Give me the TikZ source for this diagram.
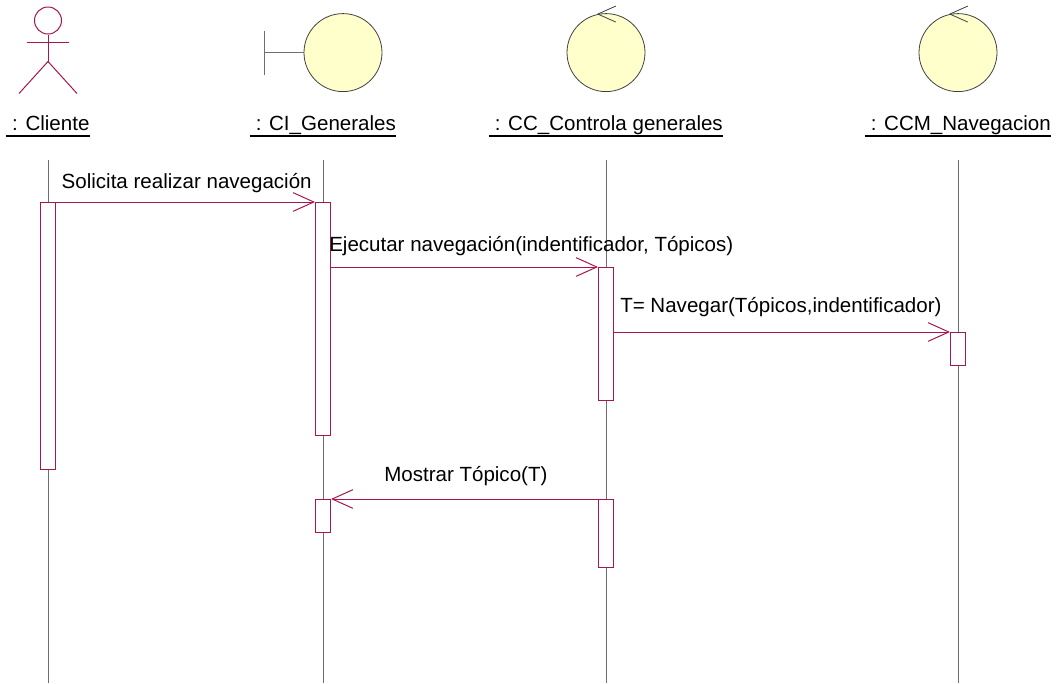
\documentclass[tikz,border=0pt]{standalone}
\usepackage{fontspec}
\setmainfont{Liberation Sans}
\usepackage{xcolor}
\usetikzlibrary{positioning}
\usetikzlibrary{arrows.meta}
\definecolor{umlline}{HTML}{A5174F}
\definecolor{umlfill}{HTML}{FFFFCC}
\definecolor{umlgray}{HTML}{6E6E6E}

\begin{document}
\begin{tikzpicture}[node distance=1cm,on grid,
      every node/.style={font=\fontsize{15.4pt}{18pt}\selectfont},
      >={Straight Barb[length=15.5pt,width=14pt]},
      life/.style={umlgray, line width=0.6pt},
      bar/.style={draw=umlline, fill=white, line width=0.75pt, minimum width=11.25pt, minimum height=#1, inner sep=0pt},
      msg/.style={draw=umlline, line width=0.75pt},
      send/.style={umlline, line width=0.75pt, ->},
      icon/.style={draw=black!75, fill=umlfill, circle, line width=0.6pt, minimum size=58.5pt, inner sep=0pt},
      title/.style={inner xsep=0pt, inner ysep=0pt, text height=12pt, text depth=3.75pt},
      tag/.style={inner sep=0pt}]

      \useasboundingbox (0,0) rectangle (792.75pt,-512.25pt);

      % lifelines
      \coordinate (life0) at (36pt,-120pt);
      \coordinate[right=206.25pt of life0] (life1);
      \coordinate[right=212.25pt of life1] (life2);
      \coordinate[right=264pt of life2] (life3);
      \coordinate[below=392pt of life0] (end0);
      \coordinate[below=392pt of life1] (end1);
      \coordinate[below=392pt of life2] (end2);
      \coordinate[below=392pt of life3] (end3);

      \draw[life] (life0) -- (end0);
      \draw[life] (life1) -- (end1);
      \draw[life] (life2) -- (end2);
      \draw[life] (life3) -- (end3);

      % titles
      \node[title] (name0) [above=18pt of life0] {\ : Cliente};
      \node[title] (name1) [above=18pt of life1] {\ : CI\_Generales};
      \node[title] (name2) [above=18pt of life2] {\ : CC\_Controla generales};
      \node[title] (name3) [above=18pt of life3] {\ : CCM\_Navegacion};

      \draw[line width=1pt] (name0.south west) -- (name0.south east);
      \draw[line width=1pt] (name1.south west) -- (name1.south east);
      \draw[line width=1pt] (name2.south west) -- (name2.south east);
      \draw[line width=1pt] (name3.south west) -- (name3.south east);

      % actor
      \node[draw=umlline, circle, line width=0.75pt, minimum size=20.25pt, inner sep=0pt] (head) [above=94.125pt of life0] {};
      \coordinate[below=30.75pt of head] (hip);
      \coordinate[below left=16.5pt and 16.1pt of head] (arml);
      \coordinate[below right=16.5pt and 16.1pt of head] (armr);
      \coordinate[below left=54.75pt and 21.75pt of head] (legl);
      \coordinate[below right=54.75pt and 21.75pt of head] (legr);
      \draw[msg] (head) -- (hip);
      \draw[msg] (arml) -- (armr);
      \draw[msg] (legl) -- (hip) -- (legr);

      % boundary
      \node[icon] (ci) [above=51pt of life1, xshift=15pt] {};
      \coordinate[left=29.25pt of ci.west] (cibar);
      \coordinate[above=16.5pt of cibar] (citop);
      \coordinate[below=16.5pt of cibar] (cibot);
      \draw[umlgray, line width=0.75pt] (citop) -- (cibot);
      \draw[umlgray, line width=0.75pt] (cibar) -- (ci.west);

      % controls
      \node[icon] (cc) [above=51pt of life2] {};
      \node[icon] (ccm) [above=51pt of life3] {};
      \draw[black!75, line width=0.6pt] (cc.102) -- +(13.5pt,6pt);
      \draw[black!75, line width=0.6pt] (cc.102) -- +(13.5pt,-6pt);
      \draw[black!75, line width=0.6pt] (ccm.102) -- +(13.5pt,6pt);
      \draw[black!75, line width=0.6pt] (ccm.102) -- +(13.5pt,-6pt);

      % activations
      \node[bar=200.25pt] (act0) [below=31.5pt of life0] {};
      \node[bar=174.75pt] (act1) [below=31.5pt of life1] {};
      \node[bar=99.75pt] (act2) [below=80.25pt of life2] {};
      \node[bar=24.75pt] (act3) [below=129pt of life3] {};
      \node[bar=24.75pt] (act4) [below=254.25pt of life1] {};
      \node[bar=51pt] (act5) [below=254.25pt of life2] {};

      % messages
      \path[send]
        (act0.north east) edge [] (act1.north west)
        (act2.north west -| act1.east) edge [] (act2.north west)
        (act3.north west -| act2.east) edge [] (act3.north west)
        (act5.north west) edge [] (act4.north east);

      \node[tag] (msg0) [below right=9.75pt and 10.1pt of life0] {Solicita realizar navegación};
      \node[tag] (msg1) [below right=57pt and 4.5pt of life1] {Ejecutar navegación(indentificador, Tópicos)};
      \node[tag] (msg2) [below right=102.75pt and 10.5pt of life2] {T= Navegar(Tópicos,indentificador)};
      \node[tag] (msg3) [below right=229.5pt and 45.75pt of life1] {Mostrar Tópico(T)};

    \end{tikzpicture}
\end{document}
